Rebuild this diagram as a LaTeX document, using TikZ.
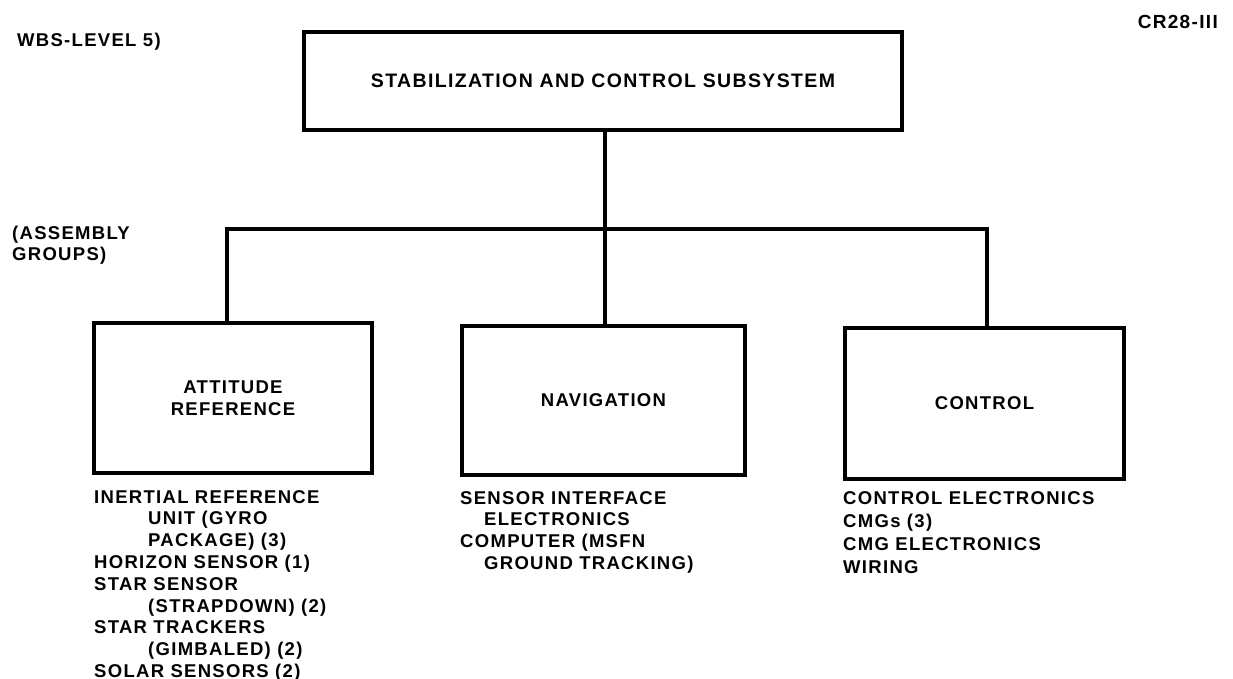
\documentclass[tikz,border=0pt]{standalone}
\usepackage{fontspec}
\setmainfont{Liberation Sans}[LetterSpace=7]
\begin{document}
\begin{tikzpicture}[x=1pt,y=-1pt,
  box/.style={draw, line width=4pt, inner sep=0pt, align=center, anchor=north west,
    font=\bfseries\fontsize{18.5}{22}\selectfont},
  conn/.style={line width=4.5pt, line join=miter},
  lbl/.style={font=\bfseries\fontsize{18.5}{21}\selectfont, inner sep=0pt, align=left},
  list/.style={font=\bfseries\fontsize{18.5}{21.8}\selectfont, align=left, anchor=north west, inner sep=0pt}]
\useasboundingbox (0,0) rectangle (1233,679);
% header labels
\node[lbl, anchor=west] (wbs) at (17,42) {WBS-LEVEL 5)};
\node[lbl, anchor=east, font=\bfseries\fontsize{19}{21}\selectfont] (cr) at (1218,22) {CR28-III};
\node[lbl, anchor=north west] (asm) at (12,226) {(ASSEMBLY\\GROUPS)};
% boxes
\node[box, minimum width=598pt, minimum height=98pt, font=\bfseries\fontsize{19.5}{24}\selectfont] (top) at (302,30) {STABILIZATION AND CONTROL SUBSYSTEM};
\node[box, minimum width=278pt, minimum height=150pt] (att) at (92,321) {ATTITUDE\\REFERENCE};
\node[box, minimum width=283pt, minimum height=149pt] (nav) at (460,324) {NAVIGATION};
\node[box, minimum width=279pt, minimum height=151pt] (ctl) at (843,326) {CONTROL};
% connectors
\coordinate (hub) at (605,229);
\coordinate (jl) at (227,229);
\coordinate (jr) at (987,229);
\draw[conn] (top.south -| hub) -- (hub);
\draw[conn] (att.north -| jl) -- (jl) -- (jr) -- (ctl.north -| jr);
\draw[conn] (hub) -- (nav.north -| hub);
% lists
\node[list] (attlist) at (94,490) {INERTIAL REFERENCE\\
\hspace*{54pt}UNIT (GYRO\\
\hspace*{54pt}PACKAGE) (3)\\
HORIZON SENSOR (1)\\
STAR SENSOR\\
\hspace*{54pt}(STRAPDOWN) (2)\\
STAR TRACKERS\\
\hspace*{54pt}(GIMBALED) (2)\\
SOLAR SENSORS (2)};
\node[list] (navlist) at (460,491) {SENSOR INTERFACE\\
\hspace*{24pt}ELECTRONICS\\
COMPUTER (MSFN\\
\hspace*{24pt}GROUND TRACKING)};
\node[list, font=\bfseries\fontsize{18.5}{23}\selectfont] (ctllist) at (843,491) {CONTROL ELECTRONICS\\
CMGs (3)\\
CMG ELECTRONICS\\
WIRING};
\end{tikzpicture}
\end{document}
